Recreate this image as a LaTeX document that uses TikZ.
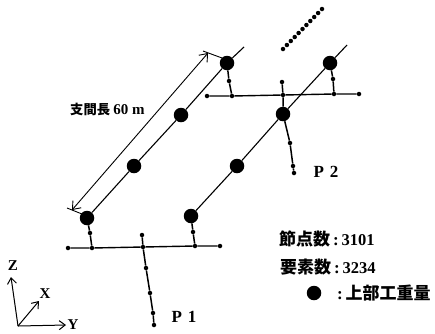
\documentclass[tikz,border=0pt]{standalone}
\usepackage{fontspec}
\setmainfont{Liberation Serif}
\newfontfamily\cjk{Noto Sans CJK JP}
\usetikzlibrary{arrows.meta}
\begin{document}
\begin{tikzpicture}[x=1pt,y=-1pt,
  mass/.style={circle,fill=black,inner sep=0pt,minimum size=14.5pt},
  joint/.style={circle,fill=black,inner sep=0pt,minimum size=4.5pt},
  girder/.style={line width=1.1pt},
  beam/.style={line width=1.4pt},
  pier/.style={line width=1.5pt},
  dim/.style={line width=0.9pt,{Straight Barb[length=7pt,width=11pt]}-{Straight Barb[length=7pt,width=11pt]}},
  axis/.style={line width=1pt,-{Straight Barb[length=6pt,width=9pt]}},
  lab/.style={inner sep=0pt,anchor=west},
  axl/.style={inner sep=0pt,font=\fontsize{15}{15}\selectfont\bfseries},
  pierlab/.style={inner sep=0pt,font=\fontsize{17}{17}\selectfont\bfseries}]
\useasboundingbox (0,0) rectangle (435,333);
\fill[white] (0,0) rectangle (435,333);
% girder 1
\node[mass] (a1) at (87,218) {};
\node[mass] (a2) at (134,166) {};
\node[mass] (a3) at (181,115) {};
\node[mass] (a4) at (227,63) {};
\coordinate (a5) at (244,47);
\draw[girder] (a1)--(a2)--(a3)--(a4)--(a5);
% girder 2
\node[mass] (b1) at (191,216) {};
\node[mass] (b2) at (237,166) {};
\node[mass] (b3) at (283,114) {};
\node[mass] (b4) at (330,63) {};
\coordinate (b5) at (347,45);
\draw[girder] (b1)--(b2)--(b3)--(b4)--(b5);
% P1 cap beam and pier
\node[joint] (c0) at (68,248) {};
\node[joint] (c1) at (92,248) {};
\node[joint] (c2) at (143,247) {};
\node[joint] (c3) at (195,246) {};
\node[joint] (c4) at (220,246) {};
\draw[beam] (c0)--(c1)--(c2)--(c3)--(c4);
\node[joint] (c5) at (142,235) {};
\node[joint] (c6) at (146,268) {};
\node[joint] (c7) at (150,293) {};
\node[joint] (c8) at (153,313) {};
\node[joint] (c9) at (154,325) {};
\draw[pier] (c5)--(c2)--(c6)--(c7)--(c8)--(c9);
\node[joint] (c10) at (90,233) {};
\node[joint] (c11) at (193,232) {};
\draw[pier] (a1)--(c10)--(c1);
\draw[pier] (b1)--(c11)--(c3);
% P2 cap beam and pier
\node[joint] (d0) at (207,96) {};
\node[joint] (d1) at (232,96) {};
\node[joint] (d2) at (283,95) {};
\node[joint] (d3) at (334,94) {};
\node[joint] (d4) at (359,94) {};
\draw[beam] (d0)--(d1)--(d2)--(d3)--(d4);
\node[joint] (d5) at (282,82) {};
\node[joint] (d6) at (290,143) {};
\node[joint] (d7) at (293,166) {};
\node[joint] (d8) at (294,173) {};
\draw[pier] (d5)--(d2)--(b3)--(d6)--(d7)--(d8);
\node[joint] (d9) at (229,81) {};
\node[joint] (d10) at (333,79) {};
\draw[pier] (a4)--(d9)--(d1);
\draw[pier] (b4)--(d10)--(d3);
% continuation dots
\foreach \i in {0,...,10}
  \node[joint] (e\i) at ({283+3.9*\i},{49-4*\i}) {};
% span dimension
\coordinate (t1) at (203,51);
\coordinate (t2) at (222,58);
\coordinate (t3) at (67,208);
\coordinate (t4) at (82,214);
\draw[line width=0.9pt] (t1)--(t2);
\draw[line width=0.9pt] (t3)--(t4);
\coordinate (s1) at (208,53);
\coordinate (s2) at (72,210);
\draw[dim] (s2)--(s1);
\node[lab,font=\fontsize{13.3}{14}\selectfont\bfseries] (span) at (70,109) {{\cjk 支間長} \fontsize{15}{15}\selectfont 60 m};
% axes
\coordinate (o) at (18,326);
\coordinate (zt) at (11,277);
\coordinate (xt) at (39,301);
\coordinate (yt) at (66,325);
\draw[axis] (o)--(zt);
\draw[axis] (o)--(xt);
\draw[axis] (o)--(yt);
\node[axl] (zl) at (13,266) {Z};
\node[axl] (xl) at (45,294) {X};
\node[axl] (yl) at (73,325) {Y};
% labels
\node[pierlab] (p1) at (184,317) {P\,\,1};
\node[pierlab] (p2) at (326,172) {P\,\,2};
\node[lab,font=\fontsize{17}{17}\selectfont\bfseries] (n1) at (279,239) {{\cjk 節点数}\,:\,{\fontsize{16.5}{16}\selectfont 3101}};
\node[lab,font=\fontsize{17}{17}\selectfont\bfseries] (n2) at (280,267) {{\cjk 要素数}\,:\,{\fontsize{16.5}{16}\selectfont 3234}};
\node[mass] (leg) at (314,293) {};
\node[lab,font=\fontsize{17}{17}\selectfont\bfseries] (n3) at (337,293) {:\,{\cjk 上部工重量}};
\end{tikzpicture}
\end{document}
